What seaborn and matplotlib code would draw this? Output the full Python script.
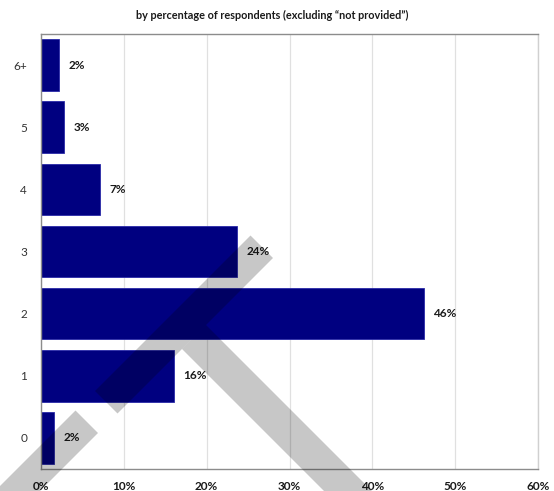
import matplotlib
matplotlib.use("Agg")
import matplotlib.pyplot as plt
import seaborn as sns
import pandas as pd
from matplotlib.patches import Polygon

# Number of children, share of respondents (%)
categories = ["6+", "5", "4", "3", "2", "1", "0"]
shares = [2.2, 2.8, 7.1, 23.7, 46.2, 16.0, 1.6]
x_ticks = [0, 10, 20, 30, 40, 50, 60]
x_tick_labels = ["0%", "10%", "20%", "30%", "40%", "50%", "60%"]
title = "by percentage of respondents (excluding \u201cnot provided\u201d)"

sns.set_theme(style="white")
plt.rcParams["font.family"] = ["Lato", "DejaVu Sans"]

df = pd.DataFrame({"children": categories, "share": shares})

W, H = 554, 491
fig = plt.figure(figsize=(W / 100, H / 100), dpi=100)
ax = fig.add_axes([41 / W, 1 - 469 / H, (538 - 41) / W, (469 - 34) / H])

sns.barplot(
    data=df, x="share", y="children", order=categories, orient="h",
    color="#000080", saturation=1, width=0.83,
    edgecolor="#2a2aa8", linewidth=0.6, ax=ax, zorder=2,
)

ax.bar_label(
    ax.containers[0], labels=[f"{v:.0f}%" for v in shares], padding=7,
    fontsize=8.5, fontweight="bold", color="#1a1a1a",
)

ax.set_xlim(0, 60)
ax.set_xticks(x_ticks)
ax.set_xticklabels(x_tick_labels, fontweight="bold")
ax.set_xlabel("")
ax.set_ylabel("")
ax.xaxis.grid(True, color="#e0e0e0", linewidth=0.9)
ax.yaxis.grid(False)
ax.set_axisbelow(True)
ax.tick_params(axis="y", length=0, pad=10, labelsize=8.5, colors="#333333")
ax.tick_params(axis="x", length=0, pad=9, labelsize=8.5, colors="#1a1a1a")

for side, col in {"left": "#8c8c8c", "bottom": "#8c8c8c",
                  "top": "#8c8c8c", "right": "#d0d0d0"}.items():
    ax.spines[side].set_visible(True)
    ax.spines[side].set_color(col)
    ax.spines[side].set_linewidth(1.0)

fig.text(272 / W, 1 - 15 / H, title, ha="center", va="center",
         fontsize=7.8, fontweight="bold", color="#1a1a1a")


# Diagonal translucent bands laid over the figure (pixel geometry, y downward)
def band(s0, s1, d0, d1):
    """Quad bounded by x+y in [s0, s1] and x-y in [d0, d1]."""
    pts = []
    for s, d in [(s0, d0), (s1, d0), (s1, d1), (s0, d1)]:
        x, y = (s + d) / 2, (s - d) / 2
        pts.append((x / W, 1 - y / H))
    return pts


for s0, s1, d0, d1 in [(486, 531, -700, -335),
                       (486, 531, -296, 15),
                       (531, 1300, -167, -119)]:
    fig.add_artist(Polygon(band(s0, s1, d0, d1), closed=True,
                           transform=fig.transFigure, facecolor="black",
                           edgecolor="none", alpha=0.22, zorder=10))

fig.savefig("out.png", dpi=100)
